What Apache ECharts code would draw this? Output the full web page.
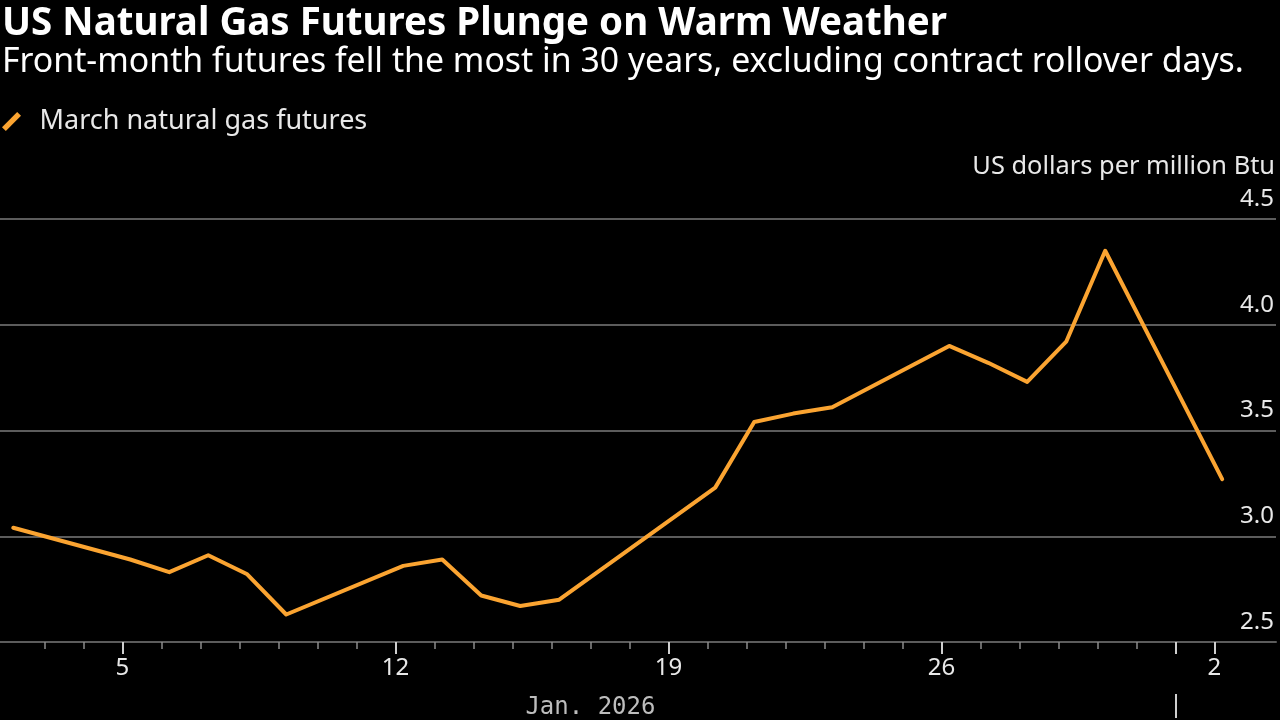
<!DOCTYPE html>
<html>
<head>
<meta charset="utf-8">
<script src="https://cdn.jsdelivr.net/npm/echarts@6/dist/echarts.min.js"></script>
<style>
  html, body { margin: 0; padding: 0; background: #000; }
  #chart { width: 1280px; height: 720px; }
</style>
</head>
<body>
<div id="chart"></div>
<script>
// trading days (settlements) of the March contract
var tradeDates = ['2026-01-02', '2026-01-05', '2026-01-06', '2026-01-07', '2026-01-08', '2026-01-09',
  '2026-01-12', '2026-01-13', '2026-01-14', '2026-01-15', '2026-01-16',
  '2026-01-20', '2026-01-21', '2026-01-22', '2026-01-23',
  '2026-01-26', '2026-01-27', '2026-01-28', '2026-01-29', '2026-01-30',
  '2026-02-02'];
var prices = [3.04, 2.89, 2.83, 2.91, 2.82, 2.63,
  2.86, 2.89, 2.72, 2.67, 2.70,
  3.23, 3.54, 3.58, 3.61,
  3.90, 3.82, 3.73, 3.92, 4.35,
  3.27];
// x axis: weekly labels (Mondays) and the month boundary
var weekTicks = ['2026-01-05', '2026-01-12', '2026-01-19', '2026-01-26', '2026-02-02'];
var weekLabels = ['5', '12', '19', '26', '2'];
var monthStart = '2026-02-01';
var monthLabel = 'Jan. 2026';
var yTicks = [2.5, 3.0, 3.5, 4.0, 4.5];

// days counted from Dec 31, 2025 (Jan 2 -> 2, Feb 2 -> 33)
function dayNum(s) {
  var p = s.split('-');
  return (Date.UTC(+p[0], +p[1] - 1, +p[2]) - Date.UTC(2026, 0, 0)) / 86400000;
}
var settleShift = 0.2;   // points sit a little after the day tick
var xMin = 1.86, xMax = 34.58;

var dailyTicks = [];
for (var d = 3; d <= dayNum(weekTicks[weekTicks.length - 1]); d++) dailyTicks.push(d);
var majorTicks = weekTicks.map(dayNum).concat([dayNum(monthStart)]);

var lineData = tradeDates.map(function (s, i) { return [dayNum(s) + settleShift, prices[i]]; });

var gridGray = '#5c5c5c';
var font = 'Noto Sans';

var chart = echarts.init(document.getElementById('chart'));
var option = {
  backgroundColor: '#000',
  animation: false,
  title: [{
    text: 'US Natural Gas Futures Plunge on Warm Weather',
    left: -3, top: 0,
    textStyle: { color: '#fff', fontFamily: font, fontWeight: 'bold', fontSize: 38.5 }
  }, {
    text: 'Front-month futures fell the most in 30 years, excluding contract rollover days.',
    left: -3, top: 40,
    textStyle: { color: '#fff', fontFamily: font, fontWeight: 'normal', fontSize: 33.8 }
  }],
  legend: {
    left: 2, top: 108, padding: 0,
    itemWidth: 20, itemHeight: 19,
    icon: 'path://M0,16 L16,0 L20,4 L4,20 Z',
    textStyle: { color: '#e8e8e8', fontFamily: font, fontSize: 27, padding: [0, 0, 0, 13] },
    data: ['March natural gas futures']
  },
  grid: { left: 0, right: 4, top: 219, bottom: 74 },
  xAxis: [{
    type: 'value', min: xMin, max: xMax,
    splitLine: { show: false },
    axisLine: { show: true, lineStyle: { color: gridGray, width: 2 } },
    axisTick: { show: true, customValues: dailyTicks, length: 7, lineStyle: { color: '#8a8a8a', width: 1.5 } },
    axisLabel: {
      customValues: weekTicks.map(dayNum),
      formatter: function (v) { return weekLabels[weekTicks.map(dayNum).indexOf(v)]; },
      color: '#e8e8e8', fontFamily: font, fontSize: 24, margin: 14
    }
  }, {
    type: 'value', min: xMin, max: xMax, position: 'bottom',
    splitLine: { show: false },
    axisLine: { show: false },
    axisTick: { show: true, customValues: majorTicks, length: 12, lineStyle: { color: '#cfcfcf', width: 2 } },
    axisLabel: { show: false }
  }, {
    type: 'value', min: xMin, max: xMax, position: 'bottom', offset: 52,
    splitLine: { show: false },
    axisLine: { show: false },
    axisTick: { show: true, customValues: [dayNum(monthStart)], length: 24, lineStyle: { color: '#cfcfcf', width: 2 } },
    axisLabel: {
      // centred on the January part of the axis
      customValues: [(dayNum(tradeDates[0]) + dayNum(monthStart)) / 2],
      formatter: function () { return monthLabel; },
      color: '#bdbdbd', fontFamily: 'DejaVu Sans Mono', fontSize: 24, margin: 2
    }
  }],
  yAxis: {
    type: 'value', position: 'right',
    min: yTicks[0], max: yTicks[yTicks.length - 1], interval: 0.5,
    name: 'US dollars per million Btu',
    nameLocation: 'end', nameGap: 40,
    nameTextStyle: { color: '#e8e8e8', fontFamily: font, fontSize: 25.4, align: 'right', verticalAlign: 'bottom', padding: [0, 1, 0, 0] },
    axisLine: { show: false },
    axisTick: { show: false },
    splitLine: { show: true, lineStyle: { color: gridGray, width: 2 } },
    axisLabel: {
      inside: true, margin: 2, verticalAlign: 'bottom',
      formatter: function (v) { return v.toFixed(1); },
      color: '#e8e8e8', fontFamily: font, fontSize: 24, padding: [0, 0, 8, 0]
    }
  },
  series: [{
    name: 'March natural gas futures',
    type: 'line',
    data: lineData,
    symbol: 'none',
    color: '#fba431',
    lineStyle: { color: '#fba431', width: 4, join: 'round', cap: 'round' }
  }]
};
chart.setOption(option);
</script>
</body>
</html>
